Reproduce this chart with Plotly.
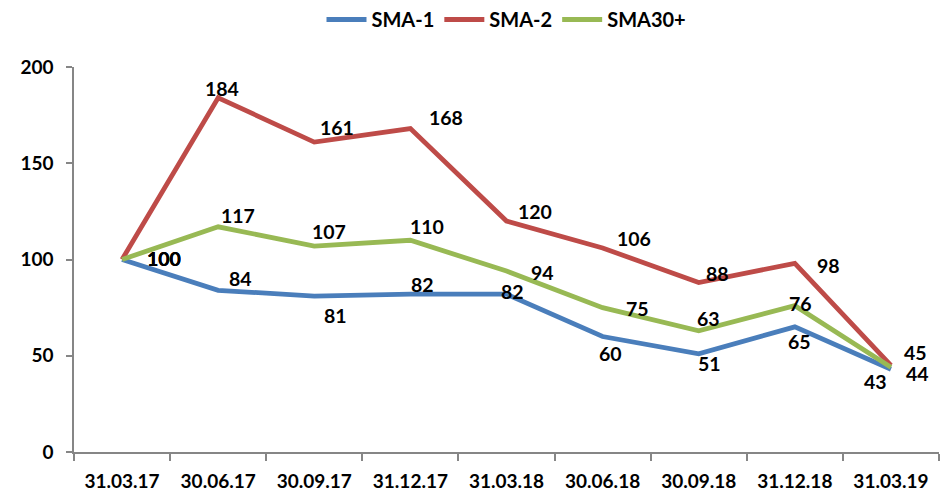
import plotly.graph_objects as go

# Quarter-end dates on the category axis
dates = ["31.03.17", "30.06.17", "30.09.17", "31.12.17", "31.03.18",
         "30.06.18", "30.09.18", "31.12.18", "31.03.19"]

# Index values per series (base 31.03.17 = 100)
sma1 = [100, 84, 81, 82, 82, 60, 51, 65, 43]
sma2 = [100, 184, 161, 168, 120, 106, 88, 98, 45]
sma30 = [100, 117, 107, 110, 94, 75, 63, 76, 44]

# Pixel offsets (dx right, dy up) of each value label from its point
off1 = [(42, 1), (22, 12), (21, -19), (12, 10), (6, 3), (8, -17), (11, -10), (5, -15), (-15, -12)]
off2 = [(42, 1), (4, 9), (23, 15), (36, 11), (28, 10), (31, 9), (19, 9), (34, -2), (25, 13)]
off30 = [(42, 1), (20, 11), (15, 15), (17, 14), (36, -1), (35, -1), (10, 12), (6, 2), (27, -6)]

FONT = "Lato, 'Open Sans', Arial, sans-serif"
series = [
    ("SMA-1", sma1, "#4A7EBB", off1),
    ("SMA-2", sma2, "#BE4B48", off2),
    ("SMA30+", sma30, "#98B954", off30),
]

fig = go.Figure()
annotations = []
for name, vals, color, offs in series:
    fig.add_trace(go.Scatter(
        x=dates, y=vals, name=name, mode="lines",
        line=dict(color=color, width=4.8),
    ))
    for d, v, (dx, dy) in zip(dates, vals, offs):
        annotations.append(dict(
            x=d, y=v, xref="x", yref="y", text=f"<b>{v}</b>",
            showarrow=False, xshift=dx, yshift=dy,
            font=dict(family=FONT, size=19.5, color="#000000"),
        ))

fig.update_layout(
    width=945, height=498,
    margin=dict(l=74, r=6, t=67, b=44),
    paper_bgcolor="white", plot_bgcolor="white",
    font=dict(family=FONT, size=18, color="#000000"),
    showlegend=True,
    legend=dict(
        orientation="h", x=0.5, xanchor="center", y=1.0, yanchor="top",
        yref="container", font=dict(family=FONT, size=20, color="#000000", weight="bold"),
        itemwidth=40, traceorder="normal",
    ),
    annotations=annotations,
)

fig.update_xaxes(
    type="category", range=[-0.5, 8.5], tickson="boundaries",
    showline=True, linecolor="#868686", linewidth=1.5,
    ticks="outside", ticklen=7, tickcolor="#868686", tickwidth=1.5,
    showgrid=False, zeroline=False, ticklabelstandoff=11,
    tickfont=dict(family=FONT, size=19, color="#000000", weight="bold"),
)
fig.update_yaxes(
    range=[0, 200], tickvals=[0, 50, 100, 150, 200],
    showline=True, linecolor="#868686", linewidth=1.5,
    ticks="outside", ticklen=6, tickcolor="#868686", tickwidth=1.5,
    showgrid=False, zeroline=False, ticklabelstandoff=9,
    tickfont=dict(family=FONT, size=19, color="#000000", weight="bold"),
)

fig.write_html("out.html")
